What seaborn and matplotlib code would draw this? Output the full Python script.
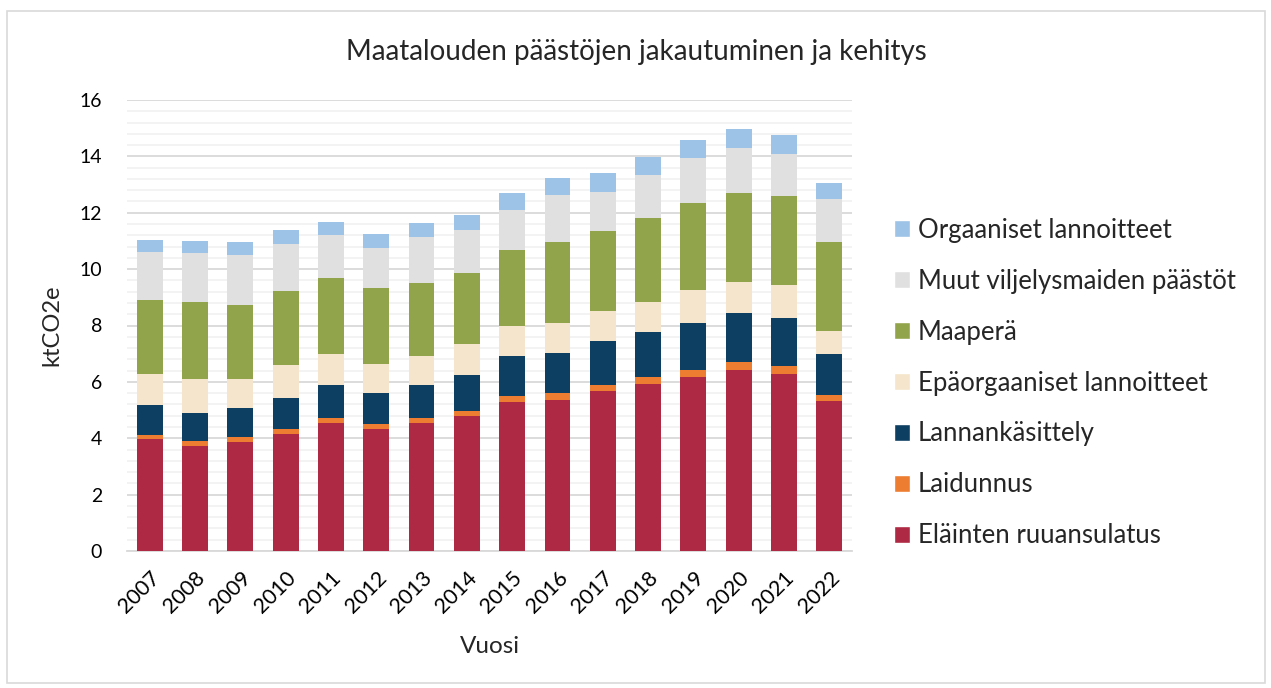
import numpy as np
import pandas as pd
import matplotlib.pyplot as plt
import seaborn as sns
from matplotlib.patches import Patch, Rectangle

# Data (ktCO2e)
years = ['2007', '2008', '2009', '2010', '2011', '2012', '2013', '2014',
         '2015', '2016', '2017', '2018', '2019', '2020', '2021', '2022']
ruuansulatus = [3.96, 3.74, 3.86, 4.16, 4.55, 4.33, 4.55, 4.80,
                5.30, 5.37, 5.69, 5.93, 6.18, 6.43, 6.29, 5.31]
laidunnus = [0.17, 0.17, 0.18, 0.18, 0.18, 0.18, 0.18, 0.18,
             0.20, 0.22, 0.20, 0.23, 0.25, 0.27, 0.27, 0.24]
lannankasittely = [1.04, 1.00, 1.04, 1.10, 1.17, 1.11, 1.17, 1.26,
                   1.41, 1.42, 1.55, 1.60, 1.67, 1.73, 1.72, 1.45]
epaorgaaniset = [1.10, 1.20, 1.01, 1.17, 1.10, 1.02, 1.03, 1.09,
                 1.08, 1.07, 1.06, 1.08, 1.16, 1.10, 1.17, 0.80]
maapera = [2.65, 2.73, 2.65, 2.62, 2.70, 2.69, 2.57, 2.54,
           2.70, 2.89, 2.84, 2.98, 3.10, 3.18, 3.14, 3.17]
muut = [1.68, 1.74, 1.77, 1.67, 1.50, 1.43, 1.64, 1.51,
        1.42, 1.66, 1.41, 1.52, 1.58, 1.59, 1.50, 1.52]
orgaaniset = [0.43, 0.43, 0.44, 0.49, 0.48, 0.49, 0.50, 0.54,
              0.59, 0.60, 0.66, 0.65, 0.65, 0.66, 0.67, 0.56]

# bottom-to-top stacking order
series = [
    ('Eläinten ruuansulatus', ruuansulatus, '#AE2943'),
    ('Laidunnus', laidunnus, '#ED7D31'),
    ('Lannankäsittely', lannankasittely, '#0D3F63'),
    ('Epäorgaaniset lannoitteet', epaorgaaniset, '#F5E5CC'),
    ('Maaperä', maapera, '#92A44B'),
    ('Muut viljelysmaiden päästöt', muut, '#E0E0E0'),
    ('Orgaaniset lannoitteet', orgaaniset, '#9DC3E6'),
]

df = pd.DataFrame({name: vals for name, vals, _ in series}, index=years)
cum = df.cumsum(axis=1)

sns.set_theme(style='white')
plt.rcParams['font.family'] = ['Lato', 'DejaVu Sans']

fig = plt.figure(figsize=(12.71, 6.88), dpi=100)
ax = fig.add_axes([127 / 1271, 1 - 551 / 688, 725 / 1271, 451 / 688])

# outer chart border
fig.patches.append(Rectangle((7 / 1271, 5 / 688), 1258 / 1271, 672 / 688,
                             transform=fig.transFigure, fill=False,
                             edgecolor='#D9D9D9', linewidth=1.2))

# draw cumulative totals from the top layer down so they overlap into stacks
for name, _, color in reversed(series):
    sns.barplot(x=years, y=cum[name].values, color=color, width=0.57,
                saturation=1, linewidth=0, ax=ax, zorder=3)

ax.set_ylim(0, 16)
ax.set_xlim(-0.5, 15.5)
ax.set_yticks(np.arange(0, 17, 2))
ax.set_yticks(np.arange(0, 16.01, 0.4), minor=True)
ax.grid(axis='y', which='major', color='#D9D9D9', linewidth=1.3, zorder=0)
ax.grid(axis='y', which='minor', color='#F2F2F2', linewidth=1.3, zorder=0)
ax.set_axisbelow(True)
for side in ['top', 'right', 'left']:
    ax.spines[side].set_visible(False)
ax.spines['bottom'].set_color('#D9D9D9')
ax.spines['bottom'].set_linewidth(1.3)
ax.tick_params(axis='both', length=0, colors='#000000')
ax.tick_params(axis='y', pad=18, labelsize=14)
ax.tick_params(axis='x', pad=12, labelsize=15.5)
plt.setp(ax.get_xticklabels(), rotation=45, ha='right', rotation_mode='anchor')

ax.set_xlabel('Vuosi', fontsize=17.5, labelpad=14)
ax.set_ylabel('ktCO2e', fontsize=17, labelpad=12)
fig.text(636 / 1271, 1 - 52 / 688, 'Maatalouden päästöjen jakautuminen ja kehitys',
         ha='center', va='center', fontsize=20)

handles = [Patch(facecolor=c, label=n) for n, _, c in reversed(series)]
fig.legend(handles=handles, loc='center left', frameon=False,
           bbox_to_anchor=(871 / 1271, 1 - 383 / 688), fontsize=18.5,
           handlelength=0.62, handleheight=0.62, handletextpad=0.3,
           labelspacing=1.01)

fig.savefig('out.png', dpi=100, facecolor='white')
